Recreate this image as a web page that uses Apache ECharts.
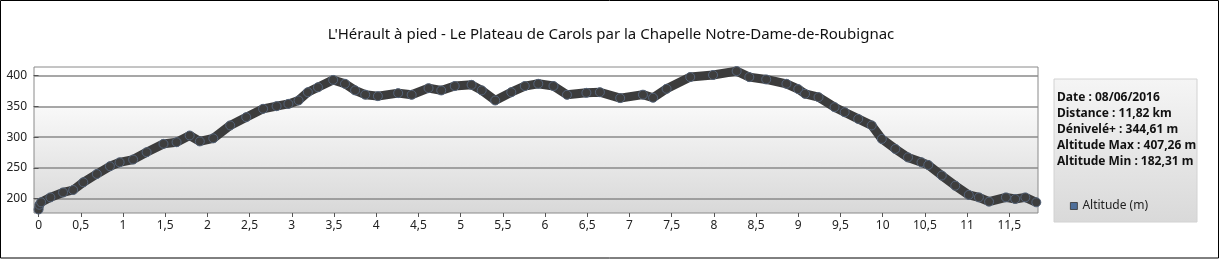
<!DOCTYPE html>
<html><head><meta charset="utf-8">
<script src="https://cdn.jsdelivr.net/npm/echarts@6/dist/echarts.min.js"></script>
<style>html,body{margin:0;padding:0;background:#fff}#c{width:1222px;height:260px}</style>
</head><body><div id="c"></div>
<script>
const title = "L'Hérault à pied - Le Plateau de Carols par la Chapelle Notre-Dame-de-Roubignac";
const distanceKm = [0,0.01,0.03,0.14,0.29,0.41,0.53,0.69,0.845,0.96,1.12,1.28,1.48,1.635,1.79,1.91,2.07,2.27,2.46,2.66,2.82,2.96,3.08,3.19,3.31,3.49,3.63,3.75,3.87,4.02,4.26,4.42,4.62,4.77,4.93,5.13,5.25,5.41,5.6,5.76,5.92,6.10,6.26,6.49,6.65,6.89,7.16,7.28,7.44,7.72,7.99,8.27,8.42,8.62,8.86,9.0,9.08,9.24,9.43,9.55,9.71,9.87,9.99,10.15,10.3,10.46,10.54,10.7,10.86,11.02,11.14,11.26,11.46,11.57,11.69,11.82];
const altitudeM = [182.3,190,194,202,210,214,226.5,240,252.6,259,263.5,275.4,289,291.7,302.6,293,298,319,332.4,346,350.3,354,359.6,373,381,393,386.7,376,369,366.6,371.5,368.8,379.6,375.9,383,385,376,359.6,373,383,386.7,383,368.8,372,373,363.4,369,364,378.5,397.6,401,407.3,397.6,393.8,386.7,378,370.4,365,348.7,340.5,329.6,319,297,280.8,267,259,254.7,237.5,221,206,202,195,202,199.4,202,194];
const xTicks = [0,0.5,1,1.5,2,2.5,3,3.5,4,4.5,5,5.5,6,6.5,7,7.5,8,8.5,9,9.5,10,10.5,11,11.5];
const yTicks = [200,250,300,350,400];
const seriesName = 'Altitude (m)';
const stats = ['Date : 08/06/2016','Distance : 11,82 km','Dénivelé+ : 344,61 m','Altitude Max : 407,26 m','Altitude Min : 182,31 m'];

const data = distanceKm.map((d,i)=>[d, altitudeM[i]]);
const chart = echarts.init(document.getElementById('c'), null, {renderer:'canvas'});
const FONT = '"Noto Sans", "Open Sans", sans-serif';
chart.setOption({
  animation:false,
  backgroundColor:'#fff',
  title:{text:title,left:'center',top:22,textStyle:{fontFamily:FONT,fontSize:15,fontWeight:'normal',color:'#111'}},
  grid:{left:34,top:67,width:1004,height:146,show:true,borderColor:'#8a8a8a',borderWidth:1,
    backgroundColor:{type:'linear',x:0,y:0,x2:0,y2:1,colorStops:[{offset:0,color:'#ffffff'},{offset:0.27,color:'#ffffff'},{offset:0.29,color:'#f8f8f8'},{offset:1,color:'#d8d8d8'}]}},
  xAxis:{type:'value',min:-0.054,max:11.84,
    axisLine:{show:false},
    axisTick:{show:true,length:4,customValues:xTicks,lineStyle:{color:'#555'}},
    axisLabel:{customValues:xTicks,margin:7,fontFamily:FONT,fontSize:12,color:'#222',formatter:v=>String(v).replace('.',',')},
    splitLine:{show:false}},
  yAxis:{type:'value',min:176.6,max:414,
    axisLine:{show:false},
    axisTick:{show:true,length:5,customValues:yTicks,lineStyle:{color:'#555'}},
    axisLabel:{customValues:yTicks,margin:7,fontFamily:FONT,fontSize:12,color:'#222'},
    splitLine:{show:true,lineStyle:{color:'#8a8a8a',width:1.5}}},
  legend:{show:true,left:1065,top:195,icon:'rect',itemWidth:7,itemHeight:7,itemGap:4,
    itemStyle:{color:'#4f6f9a',borderColor:'#333',borderWidth:0.8},
    textStyle:{fontFamily:FONT,fontSize:12,color:'#222'},data:[seriesName]},
  graphic:[
    {type:'rect',shape:{x:0.5,y:0.5,width:1218,height:257.5},style:{fill:null,stroke:'#000',lineWidth:1},z:-10},
    {type:'rect',shape:{x:1054,y:79,width:143,height:143},
      style:{fill:{type:'linear',x:0,y:0,x2:0,y2:1,colorStops:[{offset:0,color:'#f5f5f5'},{offset:1,color:'#d9d9d9'}]},stroke:'#d2d2d2',lineWidth:1},z:-5},
    {type:'text',left:1057,top:90,style:{text:stats.join('\n'),fontFamily:FONT,fontSize:12,fontWeight:'bold',lineHeight:16,fill:'#111'}}
  ],
  series:[{name:seriesName,type:'line',data:data,
    symbol:'circle',symbolSize:9,showAllSymbol:true,
    itemStyle:{color:'#3e3e3e',borderColor:'#55647a',borderWidth:1},
    lineStyle:{color:'#3c3c3c',width:9},
    emphasis:{disabled:true}}]
});
</script></body></html>
